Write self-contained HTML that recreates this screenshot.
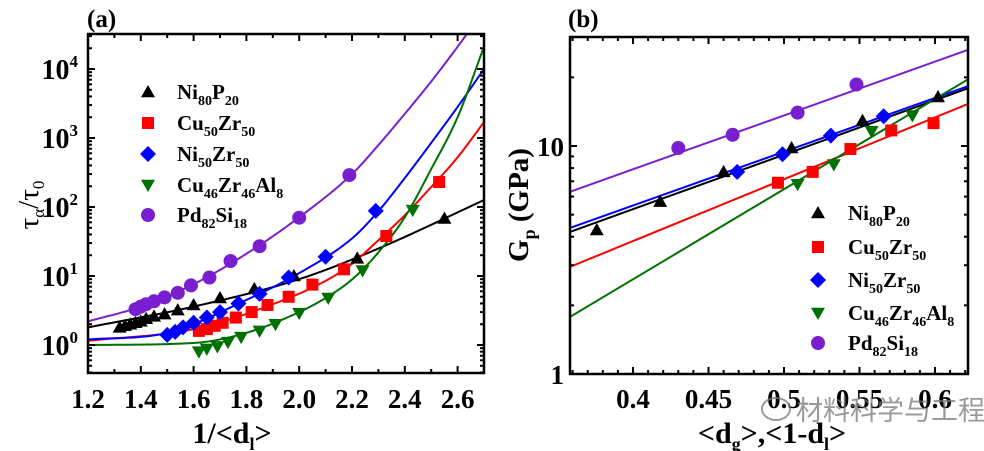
<!DOCTYPE html>
<html><head><meta charset="utf-8"><style>
html,body{margin:0;padding:0;background:#fff;width:984px;height:451px;overflow:hidden}
svg{display:block;font-family:"Liberation Serif",serif;font-weight:bold}
</style></head><body>
<svg id="c" width="984" height="451" viewBox="0 0 984 451" xmlns="http://www.w3.org/2000/svg"></svg>
<script>
// ===== Panel (a) data =====
const seriesNames = ["Ni80P20","Cu50Zr50","Ni50Zr50","Cu46Zr46Al8","Pd82Si18"];
const aNiP_x=[1.32,1.34,1.36,1.38,1.40,1.42,1.45,1.49,1.54,1.60,1.70,1.83,1.98,2.22,2.55];
const aNiP_y=[1.8,1.9,2.0,2.1,2.2,2.4,2.6,2.8,3.2,3.8,4.8,6.5,10,18,68];
const aCuZr_x=[1.62,1.65,1.68,1.71,1.76,1.82,1.88,1.96,2.05,2.17,2.33,2.53];
const aCuZr_y=[1.6,1.7,1.9,2.1,2.5,3.0,3.8,5.0,7.5,12.5,38,230];
const aNiZr_x=[1.50,1.53,1.56,1.60,1.65,1.70,1.77,1.85,1.96,2.10,2.29];
const aNiZr_y=[1.4,1.55,1.8,2.1,2.5,3.0,4.0,5.5,9.5,19,88];
const aCuZrAl_x=[1.62,1.65,1.69,1.73,1.78,1.85,1.91,2.00,2.11,2.24,2.43];
const aCuZrAl_y=[0.8,0.88,0.95,1.1,1.3,1.6,2.0,2.9,4.8,12,90];
const aPdSi_x=[1.38,1.40,1.42,1.45,1.49,1.54,1.59,1.66,1.74,1.85,2.00,2.19];
const aPdSi_y=[3.3,3.6,3.9,4.3,4.9,5.7,7.3,9.5,16.5,27,70,290];
// fit curve knots
const fNiP_x=[1.2,1.6,2.0,2.3,2.7], fNiP_y=[1.8,3.6,9,25,126];
const fCuZr_x=[1.2,1.6,1.9,2.1,2.2,2.3,2.4,2.5,2.6,2.7], fCuZr_y=[1.15,1.7,3.9,8.5,15,33,76,195,525,1700];
const fNiZr_x=[1.2,1.5,1.8,2.0,2.2,2.3,2.4,2.5,2.6,2.7], fNiZr_y=[1.2,1.5,4.5,11,35,87,263,850,2820,10000];
const fCuZrAl_x=[1.2,1.6,1.8,2.0,2.1,2.2,2.3,2.4,2.5,2.6,2.7], fCuZrAl_y=[1.0,1.07,1.5,3.0,4.8,8.9,22,71,355,2000,21000];
const fPdSi_x=[1.2,1.4,1.6,1.8,2.0,2.2,2.3,2.4,2.5,2.6,2.7], fPdSi_y=[2.2,3.6,7.6,21,71,300,790,2240,6600,21000,71000];
const aXTicks=[1.2,1.4,1.6,1.8,2.0,2.2,2.4,2.6];
const aYTicks=[0,1,2,3,4];
// ===== Panel (b) data =====
const bNiP_x=[0.376,0.418,0.46,0.505,0.552,0.602], bNiP_y=[4.28,5.7,7.7,9.8,12.9,16.4];
const bCuZr_x=[0.496,0.519,0.544,0.571,0.599], bCuZr_y=[6.9,7.7,9.7,11.7,12.6];
const bNiZr_x=[0.469,0.499,0.531,0.566], bNiZr_y=[7.7,9.2,11.1,13.5];
const bCuZrAl_x=[0.509,0.533,0.558,0.585], bCuZrAl_y=[6.8,8.3,11.6,13.6];
const bPdSi_x=[0.43,0.466,0.509,0.548], bPdSi_y=[9.8,11.2,14,18.6];
const bLineStart=[4.2,2.95,4.37,1.78,6.3];
const bLineEnd=[17.9,15.3,18.3,19.6,26.4];
const bXTicks=[0.4,0.45,0.5,0.55,0.6];
const bXTickLabels=["0.4","0.45","0.5","0.55","0.6"];

const colors=["#000000","#ff0000","#0000ff","#007000","#7a1fd0"];
const markers=["tri","sq","dia","tridown","circ"];
const NS="http://www.w3.org/2000/svg";
const svg=document.getElementById('c');
function el(t,a,p){const e=document.createElementNS(NS,t);for(const k in a)e.setAttribute(k,a[k]);(p||svg).appendChild(e);return e;}

const A={x0:88,x1:484,y0:373,y1:34,xmin:1.2,xmax:2.7};
const ax=v=>A.x0+(v-A.xmin)/(A.xmax-A.xmin)*(A.x1-A.x0);
const ay=v=>345-Math.log10(v)*69;
const B={x0:570,x1:968,y0:374,y1:37};
const bx=v=>633+(v-0.4)*1510;
const by=v=>374-Math.log10(v)*228;

function marker(g,type,x,y,c){
  const s=7;let e;
  if(type==="tri")e=el('polygon',{points:`${x},${y-s} ${x-s},${y+s*0.75} ${x+s},${y+s*0.75}`,fill:c},g);
  else if(type==="tridown")e=el('polygon',{points:`${x},${y+s} ${x-s},${y-s*0.75} ${x+s},${y-s*0.75}`,fill:c},g);
  else if(type==="sq")e=el('rect',{x:x-6,y:y-6,width:12,height:12,fill:c},g);
  else if(type==="dia")e=el('polygon',{points:`${x},${y-8} ${x+8},${y} ${x},${y+8} ${x-8},${y}`,fill:c},g);
  else e=el('circle',{cx:x,cy:y,r:7,fill:c},g);
  
  
}
// monotone cubic (Fritsch-Carlson) on x vs log10(y)
function monoPath(xs,ys){
  const n=xs.length,ly=ys.map(v=>Math.log10(v));
  const d=[],m=new Array(n);
  for(let i=0;i<n-1;i++)d.push((ly[i+1]-ly[i])/(xs[i+1]-xs[i]));
  m[0]=d[0];m[n-1]=d[n-2];
  for(let i=1;i<n-1;i++)m[i]=(d[i-1]*d[i]<=0)?0:(d[i-1]+d[i])/2;
  for(let i=0;i<n-1;i++){if(d[i]===0){m[i]=m[i+1]=0;continue;}const a=m[i]/d[i],b=m[i+1]/d[i],s=a*a+b*b;if(s>9){const t=3/Math.sqrt(s);m[i]=t*a*d[i];m[i+1]=t*b*d[i];}}
  let p='';
  for(let i=0;i<n-1;i++){const h=xs[i+1]-xs[i];
    for(let k=0;k<=20;k++){const t=k/20,t2=t*t,t3=t2*t;
      const v=(2*t3-3*t2+1)*ly[i]+(t3-2*t2+t)*h*m[i]+(-2*t3+3*t2)*ly[i+1]+(t3-t2)*h*m[i+1];
      const X=ax(xs[i]+t*h),Y=345-v*69;
      p+=(p?' L':'M')+X.toFixed(2)+','+Y.toFixed(2);}}
  return p;
}
function frame(F,name){
  const r=el('rect',{x:F.x0,y:F.y1,width:F.x1-F.x0,height:F.y0-F.y1,fill:'none',stroke:'#000','stroke-width':2.5});
  
}
function tick(x1,y1,x2,y2){el('line',{x1,y1,x2,y2,stroke:'#000','stroke-width':2});}
function text(x,y,str,size,anchor,name,extra){
  const t=el('text',Object.assign({x,y,'font-size':size,'text-anchor':anchor||'start',fill:'#000'},extra||{}));
  t.innerHTML=str;return t;
}

// ===== Panel a =====
const clipA=el('clipPath',{id:'ca'});el('rect',{x:A.x0,y:A.y1,width:A.x1-A.x0,height:A.y0-A.y1},clipA);
const gA=el('g',{'clip-path':'url(#ca)'});
const aFx=[fNiP_x,fCuZr_x,fNiZr_x,fCuZrAl_x,fPdSi_x],aFy=[fNiP_y,fCuZr_y,fNiZr_y,fCuZrAl_y,fPdSi_y];
const aPx=[aNiP_x,aCuZr_x,aNiZr_x,aCuZrAl_x,aPdSi_x],aPy=[aNiP_y,aCuZr_y,aNiZr_y,aCuZrAl_y,aPdSi_y];
for(let s=0;s<5;s++){
  const p=el('path',{d:monoPath(aFx[s],aFy[s]),fill:'none',stroke:colors[s],'stroke-width':2,'stroke-linejoin':'round'},gA);
  
}
for(let s=0;s<5;s++){const g=el('g',{},gA);
  aPx[s].forEach((v,i)=>marker(g,markers[s],ax(v),ay(aPy[s][i]),colors[s]));}
frame(A,'panel-a-frame');
for(let k=12;k<=27;k++){const v=k/10;const x=ax(v);const maj=k%2===0;const L=maj?7:4;tick(x,A.y0,x,A.y0-L);tick(x,A.y1,x,A.y1+L);}
aXTicks.forEach(v=>text(ax(v),408,v.toFixed(1),27,'middle','x-tick-label-a'));
for(let d=-1;d<5;d++)for(let m=1;m<10;m++){const y=ay(m*Math.pow(10,d));if(y<A.y1||y>A.y0)continue;const L=m===1?7:4;tick(A.x0,y,A.x0+L,y);tick(A.x1,y,A.x1-L,y);}
aYTicks.forEach(e=>{const y=ay(Math.pow(10,e));
  text(78,y+10,`10<tspan font-size="17" dy="-12">${e}</tspan>`,28,'end','y-tick-label-a');});
text(232,443,'1/&lt;d<tspan font-size="18" dy="7">l</tspan><tspan dy="-7">&gt;</tspan>',30,'middle','x-axis-title-a');
text(0,0,'τ<tspan font-size="17" dy="6">α</tspan><tspan dy="-6">/τ</tspan><tspan font-size="17" dy="6">0</tspan>',29,'middle','y-axis-title-a',{transform:'translate(38,205) rotate(-90)','font-weight':'normal'});
text(87,27,'(a)',25,'start','panel-label-a');
const legA=[[148,92],[148,123],[148,154],[148,185],[148,215]];
const legLabels=['Ni<tspan font-size="14" dy="6">80</tspan><tspan dy="-6">P</tspan><tspan font-size="14" dy="6">20</tspan>',
'Cu<tspan font-size="14" dy="6">50</tspan><tspan dy="-6">Zr</tspan><tspan font-size="14" dy="6">50</tspan>',
'Ni<tspan font-size="14" dy="6">50</tspan><tspan dy="-6">Zr</tspan><tspan font-size="14" dy="6">50</tspan>',
'Cu<tspan font-size="14" dy="6">46</tspan><tspan dy="-6">Zr</tspan><tspan font-size="14" dy="6">46</tspan><tspan dy="-6">Al</tspan><tspan font-size="14" dy="6">8</tspan>',
'Pd<tspan font-size="14" dy="6">82</tspan><tspan dy="-6">Si</tspan><tspan font-size="14" dy="6">18</tspan>'];
for(let s=0;s<5;s++){const g=el('g',{});
  marker(g,markers[s],legA[s][0],legA[s][1],colors[s]);
  const t=text(177,legA[s][1]+7,legLabels[s],21,'start','legend-a-label');g.appendChild(t);}

// ===== Panel b =====
const clipB=el('clipPath',{id:'cb'});el('rect',{x:B.x0,y:B.y1,width:B.x1-B.x0,height:B.y0-B.y1},clipB);
const gB=el('g',{'clip-path':'url(#cb)'});
const bPx=[bNiP_x,bCuZr_x,bNiZr_x,bCuZrAl_x,bPdSi_x],bPy=[bNiP_y,bCuZr_y,bNiZr_y,bCuZrAl_y,bPdSi_y];
const bxmin=(B.x0-633)/1510+0.4,bxmax=(B.x1-633)/1510+0.4;
for(let s=0;s<5;s++){
  const l=el('line',{x1:bx(bxmin),y1:by(bLineStart[s]),x2:bx(bxmax),y2:by(bLineEnd[s]),stroke:colors[s],'stroke-width':2},gB);
  
}
for(let s=0;s<5;s++){const g=el('g',{},gB);
  bPx[s].forEach((v,i)=>marker(g,markers[s],bx(v),by(bPy[s][i]),colors[s]));}
frame(B,'panel-b-frame');
for(let k=36;k<=62;k++){const v=k/100;const x=bx(v);const maj=k%5===0;const L=maj?7:4;tick(x,B.y0,x,B.y0-L);tick(x,B.y1,x,B.y1+L);}
bXTicks.forEach((v,i)=>text(bx(v),408,bXTickLabels[i],27,'middle','x-tick-label-b'));
for(let d=0;d<2;d++)for(let m=1;m<10;m++){const v=m*Math.pow(10,d);const y=by(v);if(y<B.y1)continue;const L=m===1?7:4;tick(B.x0,y,B.x0+L,y);tick(B.x1,y,B.x1-L,y);}
text(564,384,'1',27,'end','y-tick-label-b');text(564,156,'10',27,'end','y-tick-label-b');
text(772,443,'&lt;d<tspan font-size="18" dy="7">g</tspan><tspan dy="-7">&gt;,&lt;1-d</tspan><tspan font-size="18" dy="7">l</tspan><tspan dy="-7">&gt;</tspan>',30,'middle','x-axis-title-b');
text(0,0,'G<tspan font-size="18" dy="7">p</tspan><tspan dy="-7"> (GPa)</tspan>',29,'middle','y-axis-title-b',{transform:'translate(528,205) rotate(-90)'});
text(568,27,'(b)',25,'start','panel-label-b');
const legB=[[818,213],[818,247],[818,280],[818,313],[818,343]];
for(let s=0;s<5;s++){const g=el('g',{});
  marker(g,markers[s],legB[s][0],legB[s][1],colors[s]);
  const t=text(848,legB[s][1]+7,legLabels[s],21,'start','legend-b-label');g.appendChild(t);}

// watermark
const wm=text(796,420,'材料科学与工程',27,'start','watermark',{fill:'rgba(120,120,120,0.75)','font-weight':'normal','font-family':'"Noto Sans CJK SC",sans-serif'});
const wi=el('ellipse',{cx:776,cy:409,rx:14,ry:11,fill:'none',stroke:'rgba(120,120,120,0.75)','stroke-width':2});

</script>
</body></html>
